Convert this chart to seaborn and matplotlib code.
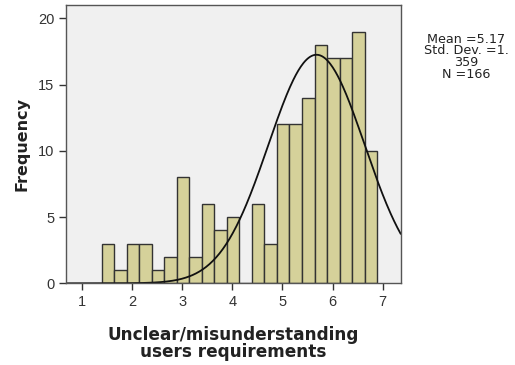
import numpy as np
import pandas as pd
import matplotlib
matplotlib.use("Agg")
import matplotlib.pyplot as plt
import seaborn as sns

# ---- data ----
bin_start = 1.39
bin_width = 0.25
counts = [3, 1, 3, 3, 1, 2, 8, 2, 6, 4, 5, 0, 6, 3, 12, 12, 14, 18, 17, 17, 19, 10]
x_ticks = [1, 2, 3, 4, 5, 6, 7]
y_ticks = [0, 5, 10, 15, 20]
curve_mean = 5.68   # normal curve as drawn
curve_sd = 0.96
n_total = 166
stats_text = "Mean =5.17\nStd. Dev. =1.\n359\nN =166"
x_label = "Unclear/misunderstanding\nusers requirements"
y_label = "Frequency"

edges = [float(v) for v in bin_start + bin_width * np.arange(len(counts) + 1)]
mids = [(a + b) / 2 for a, b in zip(edges[:-1], edges[1:])]
df = pd.DataFrame({"value": mids, "count": counts})

sns.set_theme(style="white")
plt.rcParams['font.family'] = ['Liberation Sans', 'DejaVu Sans']

fig = plt.figure(figsize=(5.15, 3.65), dpi=100)
ax = fig.add_axes([66 / 515, (365 - 283.3) / 365, (400.7 - 66) / 515, (283.3 - 5) / 365])
ax.set_facecolor("#F0F0F0")

sns.histplot(data=df, x="value", weights="count", bins=edges, ax=ax,
             color="#D5D19A", alpha=1, edgecolor="#333333", linewidth=1.0)

xs = np.linspace(0.68, 7.36, 400)
ys = n_total * bin_width * np.exp(-0.5 * ((xs - curve_mean) / curve_sd) ** 2) / (curve_sd * np.sqrt(2 * np.pi))
sns.lineplot(x=xs, y=ys, ax=ax, color="#111111", linewidth=1.3)

ax.set_xlim(0.68, 7.36)
ax.set_ylim(0, 21)
ax.set_xticks(x_ticks)
ax.set_yticks(y_ticks)
ax.tick_params(axis="both", direction="out", length=5, width=1, color="#333333",
               labelsize=10.5, labelcolor="#333333", bottom=True, left=True)
for s in ax.spines.values():
    s.set_color("#555555")
    s.set_linewidth(1.0)

ax.set_xlabel(x_label, fontsize=12.2, fontweight="bold", color="#222222", labelpad=12,
              linespacing=0.95, family=["DejaVu Sans"])
ax.set_ylabel(y_label, fontsize=11.5, fontweight="bold", color="#222222", labelpad=6,
              family=["DejaVu Sans"])

fig.text(466 / 515, 1 - 33 / 365, stats_text, ha="center", va="top", fontsize=9.2,
         color="#222222", linespacing=0.85, family=["DejaVu Sans"])

fig.savefig("out.png", dpi=100, facecolor="white")
